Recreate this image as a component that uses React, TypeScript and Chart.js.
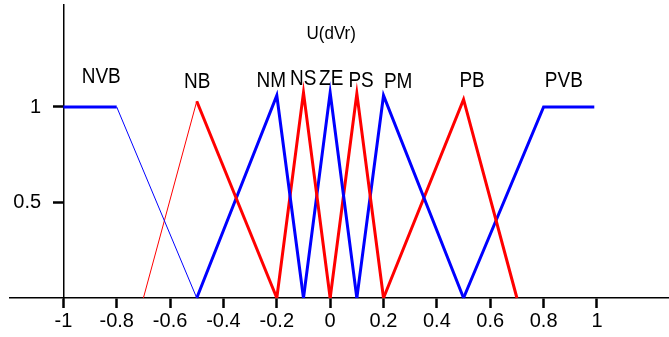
import { useEffect, useRef } from "react";
import { Chart, registerables } from "chart.js";

Chart.register(...registerables);

// ---- data ----
const mfNames = ["NVB", "NB", "NM", "NS", "ZE", "PS", "PM", "PB", "PVB"];
const mfX = [
  [-1, -0.8, -0.5],
  [-0.7, -0.5, -0.2],
  [-0.5, -0.2, -0.1],
  [-0.2, -0.1, 0],
  [-0.1, 0, 0.1],
  [0, 0.1, 0.2],
  [0.1, 0.2, 0.5],
  [0.2, 0.5, 0.7],
  [0.5, 0.8, 0.99],
];
const mfY = [
  [1, 1, 0],
  [0, 1.03, 0],
  [0, 1.06, 0],
  [0, 1.075, 0],
  [0, 1.075, 0],
  [0, 1.07, 0],
  [0, 1.06, 0],
  [0, 1.04, 0],
  [0, 1, 1],
];
// label anchor (text centre x, baseline y) in data units
const labelX = [-0.858, -0.498, -0.221, -0.101, 0.004, 0.116, 0.255, 0.532, 0.876];
const labelY = [1.126, 1.099, 1.105, 1.115, 1.115, 1.105, 1.099, 1.105, 1.105];
const titleText = "U(dVr)";
const titleX = 0.004;
const titleY = 1.356;

const xTickValues = [-1, -0.8, -0.6, -0.4, -0.2, 0, 0.2, 0.4, 0.6, 0.8, 1];
const xTickLabels = ["-1", "-0.8", "-0.6", "-0.4", "-0.2", "0", "0.2", "0.4", "0.6", "0.8", "1"];
const yTickValues = [0.5, 1];
const yTickLabels = ["0.5", "1"];

// ---- styles ----
const FONT = "'Liberation Sans', Arial, sans-serif";
const RED = "#ff0000";
const BLUE = "#0000ff";
const mfColors = [BLUE, RED, BLUE, RED, BLUE, RED, BLUE, RED, BLUE];
const thinSegment: Record<string, number> = { NVB: 1, NB: 0 };
const Y_LABEL_GAP = "    ";

const labelPlugin = {
  id: "mfLabels",
  afterDatasetsDraw(chart: any) {
    const { ctx, scales } = chart;
    const xs = scales.x;
    const ys = scales.y;
    ctx.save();
    ctx.fillStyle = "#000";
    ctx.textAlign = "center";
    ctx.textBaseline = "alphabetic";
    ctx.font = `19px ${FONT}`;
    mfNames.forEach((n, i) => {
      ctx.save();
      ctx.translate(xs.getPixelForValue(labelX[i]), ys.getPixelForValue(labelY[i]));
      ctx.scale(1, 1.17);
      ctx.fillText(n, 0, 0);
      ctx.restore();
    });
    ctx.font = `17px ${FONT}`;
    ctx.save();
    ctx.translate(xs.getPixelForValue(titleX), ys.getPixelForValue(titleY));
    ctx.scale(1, 1.08);
    ctx.fillText(titleText, 0, 0);
    ctx.restore();
    ctx.restore();
  },
};

export default function App() {
  const ref = useRef<HTMLCanvasElement>(null);
  useEffect(() => {
    const canvas = ref.current;
    if (!canvas) return;
    const datasets = mfNames.map((name, i) => ({
      label: name,
      data: mfX[i].map((x, j) => ({ x, y: mfY[i][j] })),
      showLine: true,
      borderColor: mfColors[i],
      backgroundColor: mfColors[i],
      borderWidth: 3,
      borderJoinStyle: "miter" as const,
      pointRadius: 0,
      pointHoverRadius: 0,
      tension: 0,
      clip: false as any,
      segment: {
        borderWidth: (ctx: any) => (thinSegment[name] === ctx.p0DataIndex ? 1 : undefined),
      },
    }));
    const chart = new Chart(canvas, {
      type: "scatter",
      data: { datasets },
      options: {
        responsive: false,
        animation: false,
        events: [],
        layout: { padding: { left: 10, right: 0, top: 5, bottom: 3 } },
        plugins: { legend: { display: false }, tooltip: { enabled: false } },
        scales: {
          x: {
            type: "linear",
            position: "bottom",
            min: -1.2,
            max: 1.27,
            z: 1,
            afterBuildTicks: (s: any) => {
              s.ticks = xTickValues.map((v) => ({ value: v }));
            },
            ticks: {
              autoSkip: false,
              maxRotation: 0,
              minRotation: 0,
              padding: 3,
              color: "#000",
              font: { family: FONT, size: 20, lineHeight: 1 },
              callback: (_v: any, i: number) => xTickLabels[i],
            },
            grid: {
              drawOnChartArea: false,
              drawTicks: true,
              tickLength: 10,
              tickWidth: 2.5,
              tickColor: "#000",
            },
            border: { display: true, color: "#000", width: 1.5 },
          },
          y: {
            type: "linear",
            position: { x: -1 } as any,
            min: 0,
            max: 1.534,
            z: 1,
            afterBuildTicks: (s: any) => {
              s.ticks = yTickValues.map((v) => ({ value: v }));
            },
            ticks: {
              autoSkip: false,
              padding: 0,
              color: "#000",
              font: { family: FONT, size: 20, lineHeight: 0.01 },
              callback: (_v: any, i: number) => yTickLabels[i] + Y_LABEL_GAP,
            },
            grid: {
              drawOnChartArea: false,
              drawTicks: true,
              tickLength: 10,
              tickWidth: 2.5,
              tickColor: "#000",
            },
            border: { display: true, color: "#000", width: 1.5 },
          },
        },
      },
      plugins: [labelPlugin],
    });
    return () => chart.destroy();
  }, []);
  return (
    <div style={{ position: "fixed", left: 0, top: 0, width: 669, height: 337, background: "#fff" }}>
      <canvas ref={ref} width={669} height={337} style={{ display: "block" }} />
    </div>
  );
}
